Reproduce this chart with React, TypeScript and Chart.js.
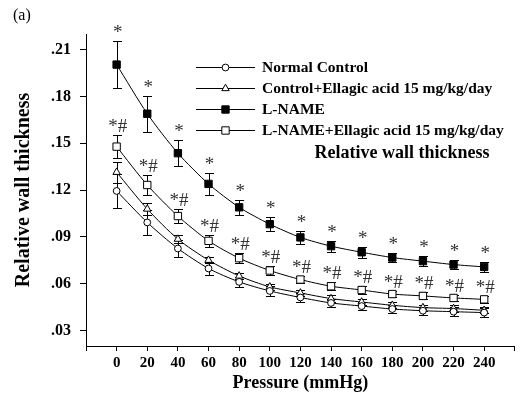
import React, { useEffect, useRef } from "react";
import { Chart, registerables } from "chart.js";

Chart.register(...registerables);

const PRESSURE = [0, 20, 40, 60, 80, 100, 120, 140, 160, 180, 200, 220, 240];
const X_TICKS = [-20, 0, 20, 40, 60, 80, 100, 120, 140, 160, 180, 200, 220, 240, 260];
const Y_TICKS = [0.03, 0.06, 0.09, 0.12, 0.15, 0.18, 0.21];

const NORMAL = [0.1194, 0.0992, 0.0825, 0.0697, 0.0611, 0.0553, 0.0511, 0.0476, 0.0456, 0.0437, 0.0426, 0.042, 0.0414];
const NORMAL_ERR = [0.011, 0.008, 0.0055, 0.004, 0.003, 0.003, 0.0028, 0.0028, 0.0027, 0.0027, 0.0027, 0.0027, 0.0027];

const CTRL_EA = [0.1314, 0.1078, 0.0885, 0.075, 0.0649, 0.0579, 0.054, 0.0504, 0.0482, 0.0461, 0.0446, 0.044, 0.0429];
const CTRL_EA_ERR = [0.0068, 0.0037, 0.0025, 0.002, 0.002, 0.002, 0.002, 0.002, 0.002, 0.002, 0.002, 0.002, 0.002];

const LNAME = [0.2004, 0.1689, 0.1436, 0.1239, 0.1089, 0.0981, 0.0896, 0.084, 0.0801, 0.0767, 0.0744, 0.0722, 0.0707];
const LNAME_ERR = [0.0153, 0.0115, 0.0085, 0.007, 0.005, 0.0045, 0.004, 0.0035, 0.0035, 0.003, 0.003, 0.003, 0.003];

const LNAME_EA = [0.1478, 0.1232, 0.1033, 0.0874, 0.0763, 0.0684, 0.0626, 0.0583, 0.0559, 0.0533, 0.0521, 0.0508, 0.0499];
const LNAME_EA_ERR = [0.0075, 0.0065, 0.0045, 0.004, 0.003, 0.003, 0.0025, 0.0025, 0.0025, 0.0022, 0.0022, 0.0022, 0.0022];

const SIG_LNAME = ["*", "*", "*", "*", "*", "*", "*", "*", "*", "*", "*", "*", "*"];
const SIG_LNAME_EA = ["*#", "*#", "*#", "*#", "*#", "*#", "*#", "*#", "*#", "*#", "*#", "*#", "*#"];

const LABELS = [
  "Normal Control",
  "Control+Ellagic acid 15 mg/kg/day",
  "L-NAME",
  "L-NAME+Ellagic acid 15 mg/kg/day",
];
const LEGEND_TITLE = "Relative wall thickness";
const PANEL = "(a)";

const SERIF = "'Liberation Serif', 'Times New Roman', serif";

type Style = { pointStyle: string; radius: number; fill: string };
const STYLES: Style[] = [
  { pointStyle: "circle", radius: 3.4, fill: "#ffffff" },
  { pointStyle: "triangle", radius: 4.3, fill: "#ffffff" },
  { pointStyle: "rect", radius: 5.2, fill: "#000000" },
  { pointStyle: "rect", radius: 5.2, fill: "#ffffff" },
];

function drawMarker(ctx: CanvasRenderingContext2D, style: Style, x: number, y: number) {
  ctx.save();
  ctx.beginPath();
  const r = style.radius;
  if (style.pointStyle === "circle") {
    ctx.arc(x, y, r, 0, Math.PI * 2);
  } else if (style.pointStyle === "triangle") {
    ctx.moveTo(x, y - r);
    ctx.lineTo(x + r * Math.sin(Math.PI / 3), y + r * 0.5);
    ctx.lineTo(x - r * Math.sin(Math.PI / 3), y + r * 0.5);
    ctx.closePath();
  } else {
    const s = r * Math.SQRT1_2;
    ctx.rect(x - s, y - s, 2 * s, 2 * s);
  }
  ctx.fillStyle = style.fill;
  ctx.fill();
  ctx.lineWidth = 1;
  ctx.strokeStyle = "#000";
  ctx.stroke();
  ctx.restore();
}

const ERRORS = [NORMAL_ERR, CTRL_EA_ERR, LNAME_ERR, LNAME_EA_ERR];
const SIGS: (string[] | null)[] = [null, null, SIG_LNAME, SIG_LNAME_EA];

const errorBarPlugin = {
  id: "errorBars",
  beforeDatasetsDraw(chart: any) {
    const ctx = chart.ctx as CanvasRenderingContext2D;
    const xs = chart.scales.x;
    const ys = chart.scales.y;
    ctx.save();
    ctx.strokeStyle = "#000";
    ctx.lineWidth = 1;
    chart.data.datasets.forEach((ds: any, i: number) => {
      const err = ERRORS[i];
      ds.data.forEach((p: any, j: number) => {
        const x = Math.round(xs.getPixelForValue(p.x)) + 0.5;
        const yTop = Math.round(ys.getPixelForValue(p.y + err[j])) + 0.5;
        const yBot = Math.round(ys.getPixelForValue(p.y - err[j])) + 0.5;
        ctx.beginPath();
        ctx.moveTo(x, yTop);
        ctx.lineTo(x, yBot);
        ctx.moveTo(x - 4.5, yTop);
        ctx.lineTo(x + 4.5, yTop);
        ctx.moveTo(x - 4.5, yBot);
        ctx.lineTo(x + 4.5, yBot);
        ctx.stroke();
      });
    });
    ctx.restore();
  },
  afterDatasetsDraw(chart: any) {
    const ctx = chart.ctx as CanvasRenderingContext2D;
    const xs = chart.scales.x;
    const ys = chart.scales.y;
    ctx.save();
    ctx.fillStyle = "#333";
    ctx.font = `19px ${SERIF}`;
    ctx.textAlign = "center";
    ctx.textBaseline = "alphabetic";
    chart.data.datasets.forEach((ds: any, i: number) => {
      const sig = SIGS[i];
      if (!sig) return;
      const err = ERRORS[i];
      ds.data.forEach((p: any, j: number) => {
        const x = xs.getPixelForValue(p.x);
        const yTop = ys.getPixelForValue(p.y + err[j]);
        ctx.fillText(sig[j], x + 1, yTop - 3);
      });
    });
    ctx.restore();
  },
  afterDraw(chart: any) {
    const ctx = chart.ctx as CanvasRenderingContext2D;
    ctx.save();
    ctx.fillStyle = "#000";
    ctx.font = `16px ${SERIF}`;
    ctx.textAlign = "left";
    ctx.textBaseline = "middle";
    ctx.fillText(PANEL, 13, 16);
    const rows = [67, 88, 109, 130];
    ctx.font = `bold 15.5px ${SERIF}`;
    LABELS.forEach((label, i) => {
      const y = rows[i];
      ctx.beginPath();
      ctx.strokeStyle = "#000";
      ctx.lineWidth = 1;
      ctx.moveTo(196, y + 0.5);
      ctx.lineTo(255, y + 0.5);
      ctx.stroke();
      drawMarker(ctx, STYLES[i], 225.5, y + 0.5);
      ctx.fillStyle = "#000";
      ctx.textAlign = "left";
      ctx.textBaseline = "middle";
      ctx.fillText(label, 262, y + 1);
    });
    ctx.font = `bold 18px ${SERIF}`;
    ctx.textAlign = "center";
    ctx.fillText(LEGEND_TITLE, 402, 153);
    ctx.restore();
  },
};

export default function App() {
  const ref = useRef<HTMLCanvasElement>(null);
  useEffect(() => {
    document.body.style.margin = "0";
    const canvas = ref.current;
    if (!canvas) return;
    Chart.defaults.font.family = SERIF;
    Chart.defaults.color = "#000";
    const series = [NORMAL, CTRL_EA, LNAME, LNAME_EA];
    const chart = new Chart(canvas, {
      type: "line",
      data: {
        datasets: series.map((vals, i) => ({
          label: LABELS[i],
          data: PRESSURE.map((x, j) => ({ x, y: vals[j] })),
          borderColor: "#000",
          borderWidth: 1,
          tension: 0.25,
          pointStyle: STYLES[i].pointStyle as any,
          pointRadius: STYLES[i].radius,
          pointBackgroundColor: STYLES[i].fill,
          pointBorderColor: "#000",
          pointBorderWidth: 1,
          fill: false,
        })),
      },
      options: {
        animation: false,
        responsive: false,
        events: [],
        layout: { padding: { top: 34, right: 5, left: 0, bottom: 0 } },
        plugins: { legend: { display: false }, tooltip: { enabled: false } },
        scales: {
          x: {
            type: "linear",
            min: -20,
            max: 260,
            afterBuildTicks: (s: any) => {
              s.ticks = X_TICKS.map((v) => ({ value: v }));
            },
            afterFit: (s: any) => {
              s.height = 50;
            },
            ticks: {
              autoSkip: false,
              maxRotation: 0,
              padding: 3,
              font: { size: 15, weight: "bold" },
              color: "#000",
              callback: (v: any) => (v >= 0 && v <= 240 ? String(v) : ""),
            },
            grid: { drawOnChartArea: false, drawTicks: true, tickLength: 5, color: "#000" },
            border: { display: true, color: "#000", width: 1 },
            title: {
              display: true,
              text: "Pressure (mmHg)",
              font: { size: 18, weight: "bold" },
              color: "#000",
              padding: { top: 0, bottom: 2 },
            },
          },
          y: {
            type: "linear",
            min: 0.02,
            max: 0.22,
            afterBuildTicks: (s: any) => {
              s.ticks = Y_TICKS.map((v) => ({ value: v }));
            },
            afterFit: (s: any) => {
              s.width = 86;
            },
            ticks: {
              padding: 9,
              font: { size: 16, weight: "bold" },
              color: "#000",
              callback: (v: any) => Number(v).toFixed(2).replace(/^0/, ""),
            },
            grid: { drawOnChartArea: false, drawTicks: true, tickLength: 6, color: "#000" },
            border: { display: true, color: "#000", width: 1 },
            title: {
              display: true,
              text: "Relative wall thickness",
              font: { size: 20, weight: "bold" },
              color: "#000",
              padding: { top: 12, bottom: 0 },
            },
          },
        },
      },
      plugins: [errorBarPlugin],
    });
    return () => chart.destroy();
  }, []);
  return <canvas ref={ref} width={521} height={396} style={{ display: "block" }} />;
}
